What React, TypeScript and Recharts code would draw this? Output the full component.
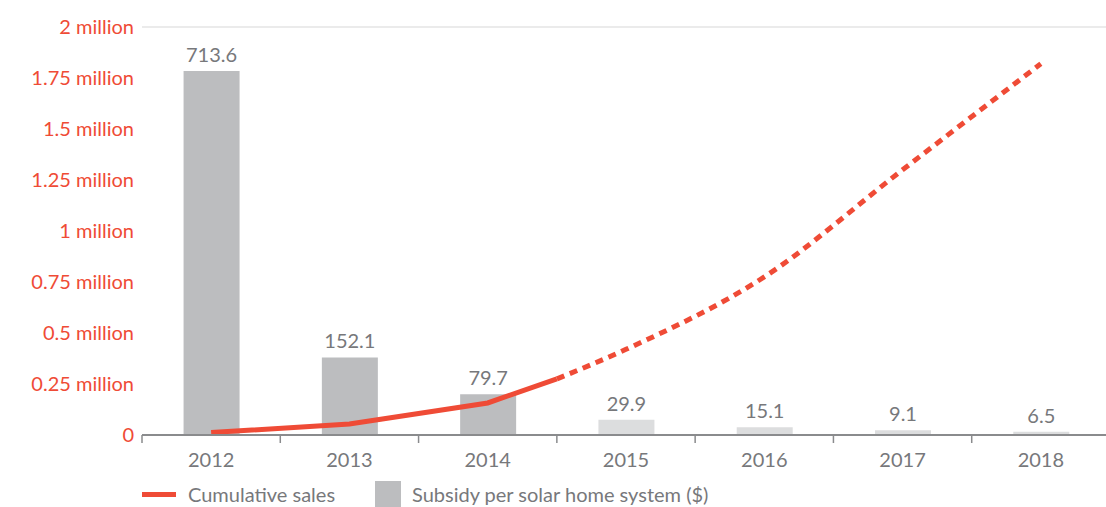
import React from 'react';
import {
  ComposedChart,
  Bar,
  Line,
  XAxis,
  YAxis,
  CartesianGrid,
  Cell,
  LabelList,
  Legend,
} from 'recharts';

// ---- data ----
const years = [2012, 2013, 2014, 2015, 2016, 2017, 2018];
const subsidy = [713.6, 152.1, 79.7, 29.9, 15.1, 9.1, 6.5];
const actualYears = [2012, 2013, 2014];
const salesActual = [12000, 54000, 157000];
const breakYear = 2014.5;
const breakValue = 275000;
const projectedYears = [2015, 2016, 2017, 2018];
const salesProjected = [420000, 775000, 1300000, 1820000];
const yTicks = [0, 250000, 500000, 750000, 1000000, 1250000, 1500000, 1750000, 2000000];
const xTicks = [2011.5, 2012, 2012.5, 2013, 2013.5, 2014, 2014.5, 2015, 2015.5, 2016, 2016.5, 2017, 2017.5, 2018, 2018.5];
const legendLabels = ['Cumulative sales', 'Subsidy per solar home system ($)'];

// ---- build table ----
type Row = { x: number; subsidy: number | null; actual: number | null; projected: number | null };
const rows: Row[] = [];
years.forEach((y, i) => {
  const ai = actualYears.indexOf(y);
  const pi = projectedYears.indexOf(y);
  rows.push({
    x: y,
    subsidy: subsidy[i],
    actual: ai >= 0 ? salesActual[ai] : null,
    projected: pi >= 0 ? salesProjected[pi] : null,
  });
  if (y === 2014) {
    rows.push({ x: breakYear, subsidy: null, actual: breakValue, projected: breakValue });
  }
});

const FONT = "Lato, 'Open Sans', sans-serif";
const FS = 20;
const RED = '#EF4B36';
const GREY_TEXT = '#77787B';
const AXIS = '#8A8B8D';
const BAR_DARK = '#BCBDBF';
const BAR_LIGHT = '#DCDDDE';

const fmtY = (v: number) => (v === 0 ? '0' : `${v / 1000000} million`);

const XTick = (props: any) => {
  const { x, y, payload } = props;
  const v = payload.value as number;
  if (Number.isInteger(v)) {
    return (
      <text x={x} y={y + 24} textAnchor="middle" fill={GREY_TEXT} fontSize={FS} fontFamily={FONT}>
        {v}
      </text>
    );
  }
  return <line x1={x} x2={x} y1={y - 8} y2={y} stroke={AXIS} strokeWidth={1.5} />;
};

const LegendContent = () => (
  <div style={{ position: 'relative', height: 26, fontFamily: FONT, fontSize: FS, color: GREY_TEXT }}>
    <div style={{ position: 'absolute', left: 142, top: 11, width: 34, height: 5, background: RED }} />
    <div style={{ position: 'absolute', left: 188, top: 0, height: 26, lineHeight: '26px', whiteSpace: 'nowrap' }}>
      {legendLabels[0]}
    </div>
    <div style={{ position: 'absolute', left: 375, top: 0, width: 26, height: 26, background: BAR_DARK }} />
    <div style={{ position: 'absolute', left: 412, top: 0, height: 26, lineHeight: '26px', whiteSpace: 'nowrap' }}>
      {legendLabels[1]}
    </div>
  </div>
);

export default function App() {
  return (
    <div style={{ position: 'absolute', left: 0, top: 0, width: 1106, height: 507, overflow: 'hidden', background: '#fff' }}>
      <ComposedChart width={1110} height={507} data={rows} margin={{ top: 27, right: 0, bottom: 14, left: 0 }}>
        <CartesianGrid vertical={false} stroke="#E4E4E4" strokeWidth={1.5} />
        <XAxis
          dataKey="x"
          type="number"
          domain={[2011.5, 2018.5]}
          ticks={xTicks}
          interval={0}
          allowDataOverflow
          tick={<XTick />}
          tickLine={false}
          axisLine={{ stroke: AXIS, strokeWidth: 2 }}
          height={32}
        />
        <YAxis
          yAxisId="sales"
          domain={[0, 2000000]}
          ticks={yTicks}
          interval={0}
          tickFormatter={fmtY}
          width={142}
          axisLine={false}
          tickLine={false}
          tick={{ fill: RED, fontSize: FS, fontFamily: FONT }}
        />
        <YAxis yAxisId="bar" orientation="right" domain={[0, 800]} hide />
        <Bar dataKey="subsidy" yAxisId="bar" barSize={56} isAnimationActive={false}>
          {rows.map((r, i) => (
            <Cell key={i} fill={r.x <= 2014 ? BAR_DARK : BAR_LIGHT} />
          ))}
          <LabelList
            dataKey="subsidy"
            position="top"
            offset={9}
            fill={GREY_TEXT}
            fontSize={FS}
            fontFamily={FONT}
            formatter={(v: any) => (v == null ? '' : v)}
          />
        </Bar>
        <Line
          dataKey="actual"
          yAxisId="sales"
          type="linear"
          stroke={RED}
          strokeWidth={5}
          dot={false}
          activeDot={false}
          isAnimationActive={false}
        />
        <Line
          dataKey="projected"
          yAxisId="sales"
          type="monotone"
          stroke={RED}
          strokeWidth={5}
          strokeDasharray="8 6"
          dot={false}
          activeDot={false}
          isAnimationActive={false}
        />
        <Legend
          content={<LegendContent />}
          wrapperStyle={{ position: 'absolute', left: 0, top: 481, width: 1106, height: 26 }}
        />
      </ComposedChart>
    </div>
  );
}
